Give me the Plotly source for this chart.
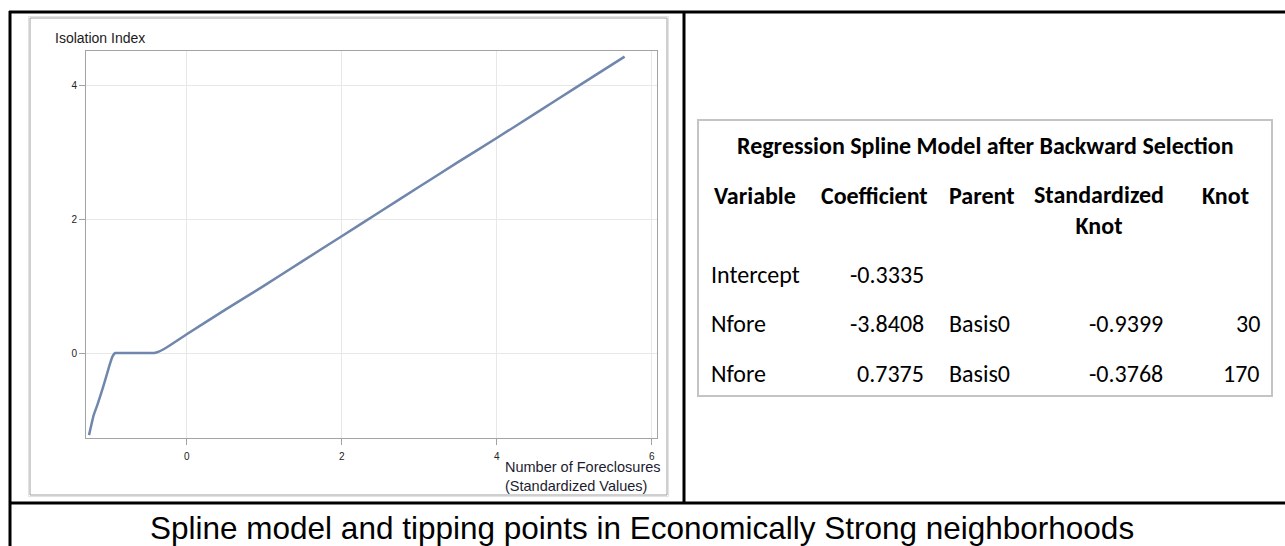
import plotly.graph_objects as go

# Fitted spline: Isolation Index against standardized number of foreclosures
nfore_std = [-1.26, -1.20, -1.15, -1.10, -1.05, -1.00, -0.96, -0.94, -0.92,
             -0.85, -0.70, -0.55, -0.42, -0.36, -0.25, 0.0, 0.5, 1.0, 1.5,
             2.0, 2.5, 3.0, 3.5, 4.0, 4.5, 5.0, 5.65]
isolation = [-1.23, -0.93, -0.77, -0.59, -0.40, -0.20, -0.06, -0.02, 0.0,
             0.0, 0.0, 0.0, 0.0, 0.02, 0.09, 0.28, 0.65, 1.01, 1.38,
             1.75, 2.12, 2.49, 2.86, 3.22, 3.59, 3.96, 4.44]

x_ticks = [0, 2, 4, 6]
y_ticks = [0, 2, 4]

# Model table
table_title = "Regression Spline Model after Backward Selection"
headers = ["Variable", "Coefficient", "Parent", "Standardized<br>Knot", "Knot"]
variables = ["Intercept", "Nfore", "Nfore"]
coefficients = ["-0.3335", "-3.8408", "0.7375"]
parents = ["", "Basis0", "Basis0"]
std_knots = ["", "-0.9399", "-0.3768"]
knots = ["", "30", "170"]

caption = "Spline model and tipping points in Economically Strong neighborhoods"

W, H = 1285, 546


def px(x):
    return x / W


def py(y):
    return 1 - y / H


fig = go.Figure()
fig.add_trace(go.Scatter(
    x=nfore_std, y=isolation, mode="lines",
    line=dict(color="#7186ac", width=2.5, shape="spline", smoothing=0.3),
    showlegend=False, hoverinfo="skip",
))

axis_common = dict(
    showgrid=True, gridcolor="#e8e8e8", gridwidth=1,
    showline=True, linecolor="#a3a3a3", linewidth=1, mirror=True,
    ticks="outside", ticklen=6, tickcolor="#a3a3a3", tickwidth=1,
    zeroline=False,
    tickfont=dict(family="Liberation Sans Narrow, Liberation Sans, Arial", size=10, color="#222222"),
)

fig.update_layout(
    width=W, height=H, autosize=False,
    margin=dict(l=0, r=0, t=0, b=0),
    paper_bgcolor="white", plot_bgcolor="white",
    xaxis=dict(domain=[px(86), px(657)], range=[-1.299, 6.068],
               tickvals=x_ticks, ticklabelstandoff=3, **axis_common),
    yaxis=dict(domain=[py(438), py(51)], range=[-1.273, 4.524],
               tickvals=y_ticks, **axis_common),
)

shapes = []
# outer cell grid (black)
blk = dict(color="black", width=3)
shapes.append(dict(type="line", xref="paper", yref="paper", x0=px(9), x1=1, y0=py(12), y1=py(12), line=blk))
shapes.append(dict(type="line", xref="paper", yref="paper", x0=px(10), x1=px(10), y0=py(11), y1=0, line=blk))
shapes.append(dict(type="line", xref="paper", yref="paper", x0=px(684), x1=px(684), y0=py(11), y1=py(503), line=blk))
shapes.append(dict(type="line", xref="paper", yref="paper", x0=px(9), x1=1, y0=py(503), y1=py(503), line=blk))
# chart frame (double gray)
shapes.append(dict(type="rect", xref="paper", yref="paper", x0=px(28.5), x1=px(668.5), y0=py(16.5), y1=py(496.5),
                   line=dict(color="#e2e2e2", width=1)))
shapes.append(dict(type="rect", xref="paper", yref="paper", x0=px(30), x1=px(667), y0=py(18), y1=py(495),
                   line=dict(color="#a0a0a0", width=1)))
# table frame
shapes.append(dict(type="rect", xref="paper", yref="paper", x0=px(698), x1=px(1272), y0=py(120), y1=py(396),
                   line=dict(color="#c4c4c4", width=2)))
fig.update_layout(shapes=shapes)

ann = []
axfont = dict(family="Liberation Sans, Arial", size=14, color="#1a1a1a")
ann.append(dict(text="Isolation Index", x=px(53), y=py(38), xref="paper", yref="paper",
                xanchor="left", yanchor="middle", showarrow=False, font=axfont))
ann.append(dict(text="Number of Foreclosures<br>(Standardized Values)", x=px(503), y=py(476),
                xref="paper", yref="paper", xanchor="left", yanchor="middle", align="left",
                showarrow=False, font=dict(family="Liberation Sans, Arial", size=14.5, color="#1c1c30")))

tfont = "Carlito, Lato, sans-serif"
tsize = 24
bold = dict(family=tfont, size=tsize, color="black", weight="bold")
norm = dict(family=tfont, size=tsize, color="black")


def A(text, x, y, anchor, font):
    ann.append(dict(text=text, x=px(x), y=py(y), xref="paper", yref="paper",
                    xanchor=anchor, yanchor="middle", showarrow=False, font=font, align="center"))


A(table_title, 985, 146, "center", bold)
A(headers[0], 712, 195, "left", bold)
A(headers[1], 819, 195, "left", bold)
A(headers[2], 947, 195, "left", bold)
A(headers[3], 1099, 210, "center", bold)
A(headers[4], 1200, 195, "left", bold)

row_y = [274, 323, 373]
for i, yy in enumerate(row_y):
    A(variables[i], 709, yy, "left", norm)
    A(coefficients[i], 926, yy, "right", norm)
    if parents[i]:
        A(parents[i], 947, yy, "left", norm)
    if std_knots[i]:
        A(std_knots[i], 1165, yy, "right", norm)
    if knots[i]:
        A(knots[i], 1262, yy, "right", norm)

ann.append(dict(text=caption, x=px(641.5), y=py(528), xref="paper", yref="paper",
                xanchor="center", yanchor="middle", showarrow=False,
                font=dict(family="Liberation Sans, Arial", size=31.5, color="black")))

fig.update_layout(annotations=ann)
fig.write_html("out.html")
